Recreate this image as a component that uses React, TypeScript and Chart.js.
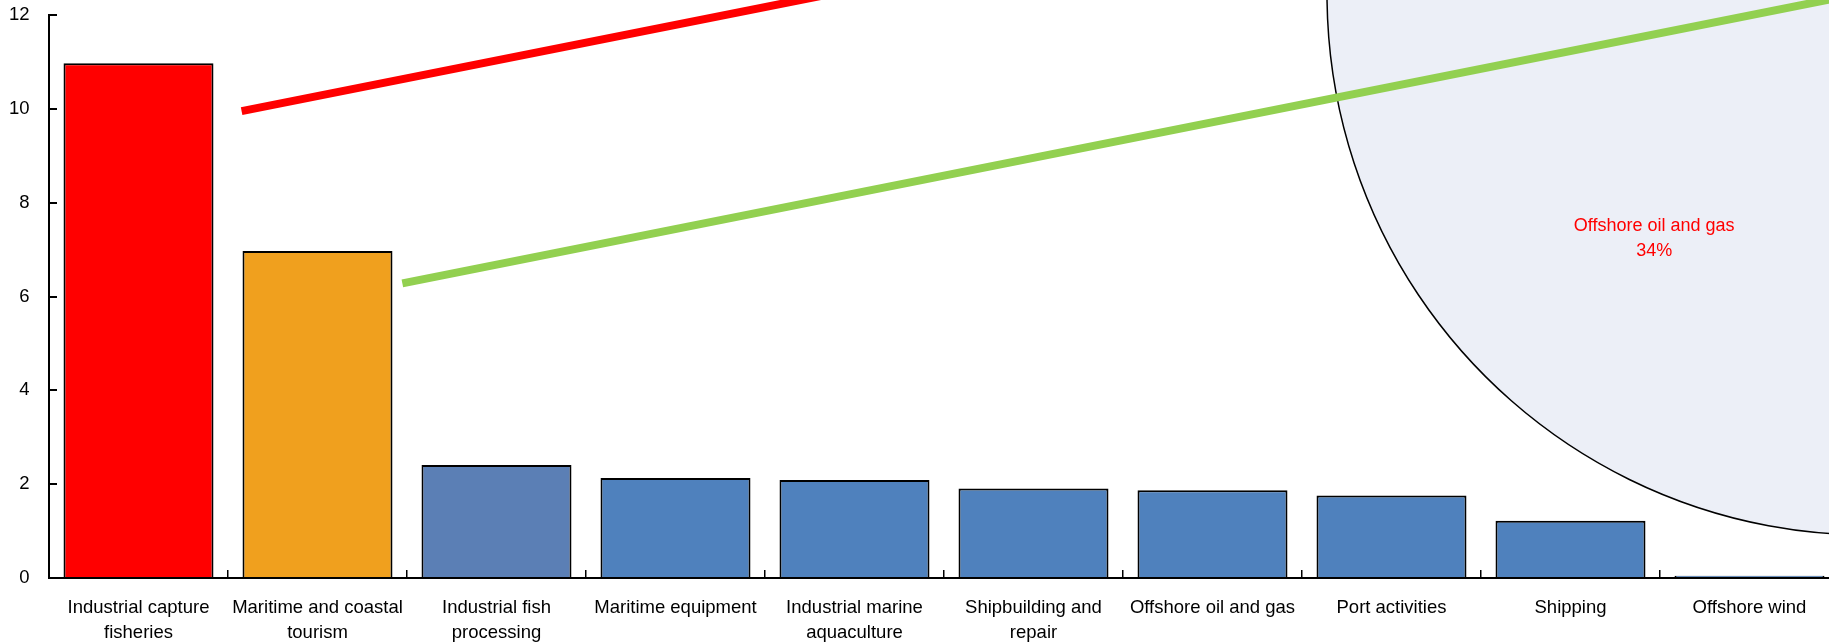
import React, { useEffect, useRef } from "react";
import { Chart, registerables } from "chart.js";

Chart.register(...registerables);

const FONT = '"Liberation Sans", Arial, "Helvetica Neue", sans-serif';

// Bar chart data
const categories: (string | string[])[] = [
  ["Industrial capture", "fisheries"],
  ["Maritime and coastal", "tourism"],
  ["Industrial fish", "processing"],
  "Maritime equipment",
  ["Industrial marine", "aquaculture"],
  ["Shipbuilding and", "repair"],
  "Offshore oil and gas",
  "Port activities",
  "Shipping",
  "Offshore wind",
];
const values = [10.97, 6.97, 2.41, 2.13, 2.09, 1.91, 1.87, 1.76, 1.22, 0.05];
const barColors = [
  "#FF0000",
  "#F0A01E",
  "#5B7FB5",
  "#4F81BD",
  "#4F81BD",
  "#4F81BD",
  "#4F81BD",
  "#4F81BD",
  "#4F81BD",
  "#4F81BD",
];
const yTicks = [0, 2, 4, 6, 8, 10, 12];

// Connector lines (category-index x, value y)
const redLineX = [0.576, 4.2];
const redLineY = [9.95, 12.7];
const greenLineX = [1.474, 10];
const greenLineY = [6.28, 12.75];

// Pie (only the first slice falls within the picture)
const pieLabels = ["Offshore oil and gas", "Other sectors"];
const pieShares = [34, 66];
const pieColors = ["#ECEFF7", "#FFFFFF"];

const pieLabelPlugin = {
  id: "pieLabel",
  afterDatasetsDraw(chart: any) {
    const arc = chart.getDatasetMeta(0).data[0];
    if (!arc) return;
    const { x, y, startAngle, endAngle, outerRadius } = arc.getProps(
      ["x", "y", "startAngle", "endAngle", "outerRadius"],
      true
    );
    const mid = (startAngle + endAngle) / 2;
    const r = outerRadius * 0.6;
    const cx = x + Math.cos(mid) * r;
    const cy = y + Math.sin(mid) * r;
    const ctx = chart.ctx;
    ctx.save();
    ctx.fillStyle = "#FF0000";
    ctx.font = `18px ${FONT}`;
    ctx.textAlign = "center";
    ctx.textBaseline = "middle";
    ctx.fillText(pieLabels[0], cx, cy - 12.5);
    ctx.fillText(`${pieShares[0]}%`, cx, cy + 12.5);
    ctx.restore();
  },
};

export default function App() {
  const barRef = useRef<HTMLCanvasElement | null>(null);
  const pieRef = useRef<HTMLCanvasElement | null>(null);

  useEffect(() => {
    if (!barRef.current || !pieRef.current) return;

    const pie = new Chart(pieRef.current, {
      type: "pie",
      data: {
        labels: pieLabels,
        datasets: [
          {
            data: pieShares,
            backgroundColor: pieColors,
            borderColor: "#000000",
            borderWidth: 1.5,
          },
        ],
      },
      options: {
        responsive: false,
        animation: false,
        devicePixelRatio: 1,
        radius: 541,
        rotation: 160,
        layout: { padding: 0 },
        plugins: { legend: { display: false }, tooltip: { enabled: false } },
      } as any,
      plugins: [pieLabelPlugin],
    });

    const tickFont = { family: FONT, size: 18.5, lineHeight: 1.35 };

    const bar = new Chart(barRef.current, {
      type: "bar",
      data: {
        labels: categories as any,
        datasets: [
          {
            type: "bar",
            data: values,
            xAxisID: "x",
            yAxisID: "y",
            backgroundColor: barColors,
            borderColor: "#000000",
            borderWidth: 2,
            barPercentage: 0.838,
            categoryPercentage: 1,
            grouped: false,
            order: 1,
          } as any,
          {
            type: "line",
            data: redLineX.map((x, i) => ({ x, y: redLineY[i] })),
            xAxisID: "x2",
            yAxisID: "y",
            borderColor: "#FF0000",
            borderWidth: 8,
            pointRadius: 0,
            clip: false,
            order: 0,
          } as any,
          {
            type: "line",
            data: greenLineX.map((x, i) => ({ x, y: greenLineY[i] })),
            xAxisID: "x2",
            yAxisID: "y",
            borderColor: "#92D050",
            borderWidth: 8,
            pointRadius: 0,
            clip: false,
            order: 0,
          } as any,
        ],
      },
      options: {
        responsive: false,
        animation: false,
        devicePixelRatio: 1,
        layout: { padding: { top: 15, right: 1, left: 0, bottom: 0 } },
        plugins: { legend: { display: false }, tooltip: { enabled: false } },
        scales: {
          x: {
            type: "category",
            offset: true,
            grid: {
              display: true,
              offset: true,
              drawOnChartArea: false,
              drawTicks: true,
              tickLength: -8,
              color: "#000000",
              lineWidth: 1.5,
            },
            border: { display: true, color: "#000000", width: 2 },
            ticks: {
              color: "#000000",
              font: tickFont,
              padding: 25,
              maxRotation: 0,
              autoSkip: false,
            },
            afterFit: (s: any) => {
              s.height = 65;
              s.paddingLeft = 0;
              s.paddingRight = 0;
            },
          },
          x2: {
            type: "linear",
            min: -0.5,
            max: 9.5,
            offset: false,
            grace: 0,
            bounds: "data",
            display: false,
            grid: { offset: false },
          },
          y: {
            type: "linear",
            min: 0,
            max: 12,
            grid: {
              display: true,
              drawOnChartArea: false,
              drawTicks: true,
              tickLength: -8,
              color: "#000000",
              lineWidth: 2,
            },
            border: { display: true, color: "#000000", width: 2 },
            ticks: {
              color: "#000000",
              font: tickFont,
              padding: 27.5,
            },
            afterBuildTicks: (s: any) => {
              s.ticks = yTicks.map((v) => ({ value: v }));
            },
            afterFit: (s: any) => {
              s.width = 49;
              s.paddingTop = 10;
              s.paddingBottom = 0;
            },
          },
        },
      } as any,
    });

    return () => {
      bar.destroy();
      pie.destroy();
    };
  }, []);

  return (
    <div
      style={{
        position: "fixed",
        left: 0,
        top: 0,
        width: 1829,
        height: 643,
        overflow: "hidden",
        background: "#FFFFFF",
      }}
    >
      <canvas
        ref={pieRef}
        width={1120}
        height={1120}
        style={{ position: "absolute", left: 1308, top: -566, width: 1120, height: 1120 }}
      />
      <canvas
        ref={barRef}
        width={1840}
        height={643}
        style={{ position: "absolute", left: 0, top: 0, width: 1840, height: 643 }}
      />
    </div>
  );
}
